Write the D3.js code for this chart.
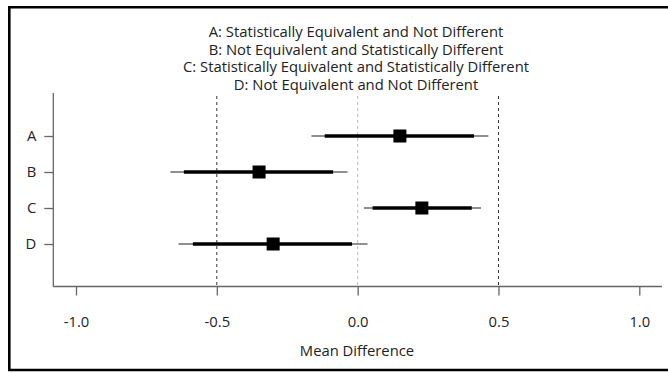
<!DOCTYPE html>
<html><head><meta charset="utf-8">
<script src="https://cdn.jsdelivr.net/npm/d3@7"></script>
<style>body{margin:0;background:#fff}svg{display:block}</style>
</head><body>
<svg id="chart" width="668" height="373"></svg>
<script>
const categories = ["A","B","C","D"];
const estimates  = [0.15, -0.35, 0.228, -0.30];
const innerLow   = [-0.117, -0.617, 0.053, -0.585];
const innerHigh  = [0.413, -0.087, 0.405, -0.020];
const outerLow   = [-0.164, -0.665, 0.022, -0.636];
const outerHigh  = [0.464, -0.036, 0.438, 0.035];
const xTicks     = [-1.0, -0.5, 0.0, 0.5, 1.0];
const refLines   = [-0.5, 0.0, 0.5];
const titleLines = [
  "A: Statistically Equivalent and Not Different",
  "B: Not Equivalent and Statistically Different",
  "C: Statistically Equivalent and Statistically Different",
  "D: Not Equivalent and Not Different"
];
const xLabel = "Mean Difference";

const svg = d3.select("#chart");
const font = "'Open Sans', 'Noto Sans', sans-serif";
const fs = 14.8;

svg.append("path")
  .attr("d", "M670,7.3 H9.3 V370 H670")
  .attr("fill","none").attr("stroke","#000").attr("stroke-width",2.6);

const x = d3.scaleLinear().domain([-1,1]).range([76,639.3]);
const y = d3.scalePoint().domain(categories).range([136,244]);
const plotTop = 93, plotBottom = 286.5, axisLeft = 53.3, axisRight = 662;

svg.append("g").selectAll("text").data(titleLines).join("text")
  .attr("x", 356).attr("y", (d,i)=>31 + i*17.5)
  .attr("text-anchor","middle").attr("dominant-baseline","central")
  .attr("font-family", font).attr("font-size", fs).attr("fill","#222")
  .text(d=>d);

svg.append("g").selectAll("line").data(refLines).join("line")
  .attr("x1", d=>x(d)).attr("x2", d=>x(d))
  .attr("y1", 96).attr("y2", plotBottom)
  .attr("stroke", d=> d===0 ? "#bbb" : "#333")
  .attr("stroke-width", 1)
  .attr("stroke-dasharray","3,3");

svg.append("line").attr("x1",axisLeft).attr("x2",axisLeft).attr("y1",plotTop).attr("y2",plotBottom)
  .attr("stroke","#666").attr("stroke-width",1.3);
svg.append("line").attr("x1",axisLeft).attr("x2",axisRight).attr("y1",plotBottom).attr("y2",plotBottom)
  .attr("stroke","#666").attr("stroke-width",1.3);

const xAxis = d3.axisBottom(x).tickValues(xTicks).tickFormat(d=>d.toFixed(1)).tickSize(9).tickPadding(21);
const gx = svg.append("g").attr("transform",`translate(0,${plotBottom})`).call(xAxis);
gx.select(".domain").remove();
gx.selectAll("line").attr("stroke","#666").attr("stroke-width",1.3);
gx.selectAll("text").attr("font-family",font).attr("font-size",fs).attr("fill","#222");

const yAxis = d3.axisLeft(y).tickSize(9).tickPadding(8);
const gy = svg.append("g").attr("transform",`translate(${axisLeft},0)`).call(yAxis);
gy.select(".domain").remove();
gy.selectAll("line").attr("stroke","#666").attr("stroke-width",1.3);
gy.selectAll("text").attr("font-family",font).attr("font-size",fs).attr("fill","#222");

svg.append("text").attr("x",357).attr("y",350).attr("text-anchor","middle")
  .attr("dominant-baseline","central")
  .attr("font-family",font).attr("font-size",fs).attr("fill","#222").text(xLabel);

const rows = categories.map((c,i)=>({c, est:estimates[i], il:innerLow[i], ih:innerHigh[i], ol:outerLow[i], oh:outerHigh[i]}));
const g = svg.append("g");
g.selectAll(".outer").data(rows).join("line").attr("class","outer")
  .attr("x1",d=>x(d.ol)).attr("x2",d=>x(d.oh)).attr("y1",d=>y(d.c)).attr("y2",d=>y(d.c))
  .attr("stroke","#222").attr("stroke-width",1.2);
g.selectAll(".inner").data(rows).join("line").attr("class","inner")
  .attr("x1",d=>x(d.il)).attr("x2",d=>x(d.ih)).attr("y1",d=>y(d.c)).attr("y2",d=>y(d.c))
  .attr("stroke","#000").attr("stroke-width",3.4);
const s = 13;
g.selectAll("rect").data(rows).join("rect")
  .attr("x",d=>x(d.est)-s/2).attr("y",d=>y(d.c)-s/2).attr("width",s).attr("height",s)
  .attr("fill","#000");
</script>
</body></html>
